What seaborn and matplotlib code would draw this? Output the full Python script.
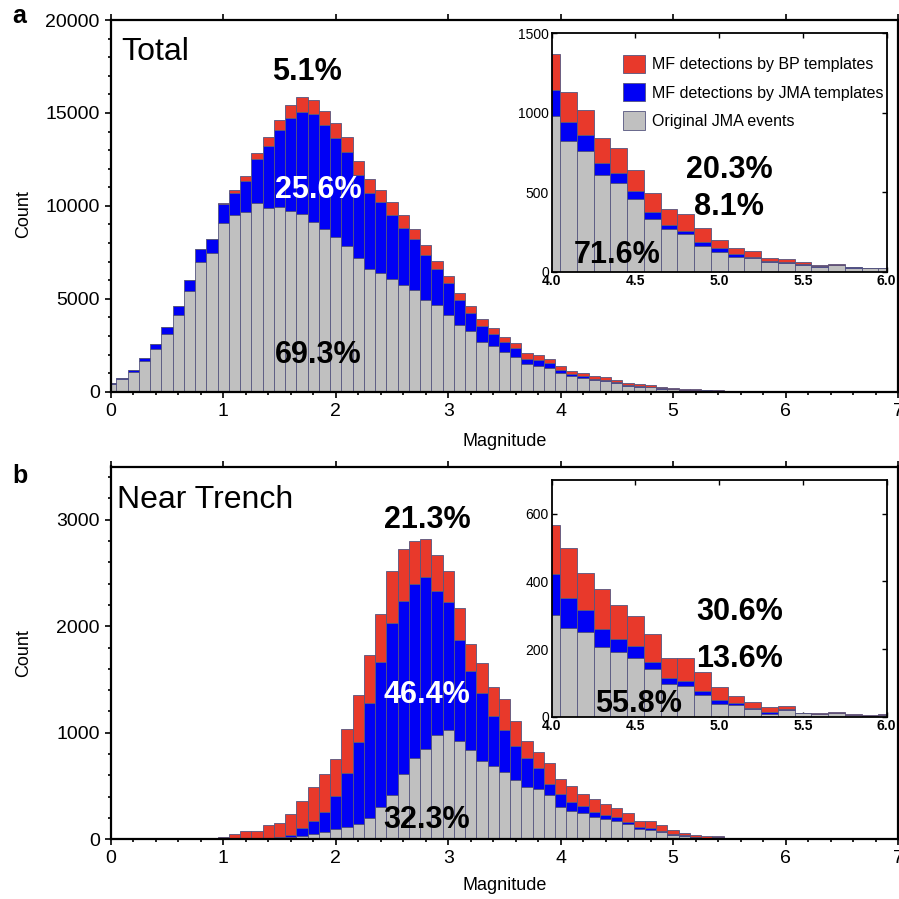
import numpy as np
import pandas as pd
import matplotlib
matplotlib.use("Agg")
import matplotlib.pyplot as plt
import seaborn as sns
from matplotlib.ticker import MultipleLocator

# ---------------- data (counts per 0.1 magnitude bin, centres 0.0 ... 7.0) ----------------
magnitudes = np.round(np.arange(0, 7.01, 0.1), 1)

total_jma = [400, 680, 1080, 1650, 2300, 3110, 4120, 5400, 6980, 7460,
             9080, 9500, 9690, 10160, 9870, 9930, 9710, 9550, 9150, 8740,
             8330, 7820, 7190, 6600, 6380, 6060, 5720, 5490, 4950, 4680,
             4140, 3600, 3240, 2700, 2480, 2160, 1890, 1470, 1380, 1290,
             981, 823, 762, 609, 561, 458, 332, 267, 237, 164,
             126, 95, 88, 59, 57, 42, 32, 40, 25, 21,
             21, 15, 12, 9, 7, 5, 4, 3, 2, 1, 1]
total_mf_jma = [50, 40, 90, 150, 250, 380, 470, 590, 700, 750,
                1010, 1170, 1660, 2340, 3350, 4150, 5000, 5520, 5780, 5590,
                5340, 5090, 4460, 4080, 3820, 3470, 3090, 2730, 2420, 1940,
                1690, 1350, 1020, 840, 610, 500, 450, 290, 330, 240,
                164, 118, 99, 74, 63, 50, 44, 29, 21, 21,
                21, 14, 7, 6, 2, 4, 4, 2, 2, 1,
                1, 1, 1, 0, 0, 0, 0, 0, 0, 0, 0]
total_mf_bp = [0, 0, 0, 0, 0, 0, 0, 0, 20, 30,
               70, 160, 270, 340, 470, 540, 700, 810, 770, 780,
               810, 800, 760, 740, 630, 670, 690, 560, 510, 430,
               370, 360, 330, 380, 330, 310, 270, 310, 270, 230,
               224, 187, 158, 161, 157, 133, 118, 97, 103, 88,
               53, 38, 35, 23, 21, 13, 6, 4, 5, 3,
               3, 2, 2, 1, 1, 1, 0, 0, 0, 0, 0]

trench_jma = [0, 0, 0, 0, 0, 0, 0, 0, 0, 0,
              0, 0, 0, 0, 3, 9, 19, 31, 47, 72,
              94, 119, 144, 197, 300, 416, 609, 766, 844, 978,
              1025, 925, 838, 734, 691, 634, 556, 494, 469, 416,
              300, 263, 251, 205, 192, 175, 140, 96, 92, 64,
              39, 34, 23, 9, 20, 10, 8, 12, 6, 3,
              6, 2, 2, 1, 1, 0, 0, 0, 0, 0, 0]
trench_mf_jma = [0, 0, 0, 0, 0, 0, 0, 0, 0, 0,
                 0, 0, 0, 0, 7, 16, 21, 78, 128, 187,
                 312, 500, 772, 1078, 1366, 1618, 1625, 1634, 1619, 1353,
                 1203, 944, 740, 635, 465, 391, 319, 272, 197, 100,
                 121, 89, 66, 54, 38, 34, 23, 19, 14, 12,
                 10, 7, 2, 6, 2, 1, 0, 0, 0, 0,
                 0, 0, 0, 0, 0, 0, 0, 0, 0, 0, 0]
trench_mf_bp = [0, 0, 0, 0, 0, 0, 0, 0, 0, 3,
                19, 47, 81, 78, 124, 131, 197, 250, 312, 350,
                344, 421, 437, 453, 453, 482, 488, 400, 353, 341,
                291, 303, 260, 290, 275, 291, 234, 156, 156, 197,
                147, 148, 109, 118, 100, 88, 81, 59, 68, 57,
                40, 21, 19, 13, 10, 1, 2, 3, 2, 2,
                2, 1, 1, 1, 0, 0, 0, 0, 0, 0, 0]

labels = ["MF detections by BP templates", "MF detections by JMA templates", "Original JMA events"]
colors = ["#E8392B", "#0000F5", "#C0C0C0"]

total_pcts = ["5.1%", "25.6%", "69.3%"]
total_inset_pcts = ["20.3%", "8.1%", "71.6%"]
trench_pcts = ["21.3%", "46.4%", "32.3%"]
trench_inset_pcts = ["30.6%", "13.6%", "55.8%"]


def long_frame(bp, jma_mf, jma):
    parts = []
    for lab, vals in zip(labels, [bp, jma_mf, jma]):
        parts.append(pd.DataFrame({"mag": magnitudes, "count": vals, "source": lab}))
    return pd.concat(parts, ignore_index=True)


df_total = long_frame(total_mf_bp, total_mf_jma, total_jma)
df_trench = long_frame(trench_mf_bp, trench_mf_jma, trench_jma)

bin_edges = [round(v, 2) for v in np.arange(-0.05, 7.1, 0.1)]

# ---------------- style ----------------
sns.set_style("ticks")
plt.rcParams["font.family"] = ["Liberation Sans", "DejaVu Sans"]
plt.rcParams.update({"text.color": "black", "axes.labelcolor": "black",
                     "xtick.color": "black", "ytick.color": "black",
                     "axes.edgecolor": "black"})

W = H = 899.0
fig = plt.figure(figsize=(8.99, 8.99), dpi=100)


def fx(x):
    return x / W


def fy(y):
    return 1 - y / H


def rect(l, t, r, b):
    return [fx(l), fy(b), (r - l) / W, (b - t) / H]


EDGE = "#55557f"


def draw_hist(ax, df, legend=False):
    sns.histplot(data=df, x="mag", weights="count", hue="source", hue_order=labels,
                 palette=colors, multiple="stack", bins=bin_edges, alpha=1,
                 edgecolor=EDGE, linewidth=0.6, ax=ax, legend=legend)


def style_main(ax, ymax, ymajor, yminor):
    ax.set_xlim(0, 7)
    ax.set_ylim(0, ymax)
    ax.xaxis.set_major_locator(MultipleLocator(1))
    ax.xaxis.set_minor_locator(MultipleLocator(0.2))
    ax.yaxis.set_major_locator(MultipleLocator(ymajor))
    ax.yaxis.set_minor_locator(MultipleLocator(yminor))
    ax.tick_params(which="both", direction="out", top=True, right=False,
                   labelsize=14, width=1.2, colors="black")
    ax.tick_params(which="major", length=4.5)
    ax.tick_params(which="minor", length=2.5, top=False)
    for sp in ax.spines.values():
        sp.set_visible(True)
        sp.set_linewidth(1.6)
        sp.set_color("black")
    ax.set_xlabel("Magnitude", fontsize=13)
    ax.set_ylabel("Count", fontsize=13)


def style_inset(ax, ymax, ymajor):
    ax.set_xlim(4, 6)
    ax.set_ylim(0, ymax)
    ax.xaxis.set_major_locator(MultipleLocator(0.5))
    ax.yaxis.set_major_locator(MultipleLocator(ymajor))
    ax.tick_params(which="both", direction="in", top=True, right=True,
                   labelsize=10, width=1.0, length=3.5, pad=2)
    ax.xaxis.set_major_formatter(matplotlib.ticker.FormatStrFormatter("%.1f"))
    for sp in ax.spines.values():
        sp.set_visible(True)
        sp.set_linewidth(1.3)
        sp.set_color("black")
    ax.set_xlabel("")
    ax.set_ylabel("")
    ax.set_facecolor("white")


# ---------------- panel a ----------------
ax_a = fig.add_axes(rect(110.8, 20, 898, 391.7))
draw_hist(ax_a, df_total)
style_main(ax_a, 20000, 5000, 1000)
ax_a.xaxis.set_label_coords(0.5, -0.11)
ax_a.yaxis.set_label_coords(-0.1, 0.478)

ax_ai = fig.add_axes(rect(551.7, 33.3, 886.7, 271.7))
draw_hist(ax_ai, df_total, legend=True)
style_inset(ax_ai, 1500, 500)
sns.move_legend(ax_ai, loc="upper left", bbox_to_anchor=(0.213, 0.909),
                title=None, frameon=False, fontsize=11.5, handlelength=1.38,
                handleheight=1.38, labelspacing=0.62, handletextpad=0.42,
                borderpad=0, borderaxespad=0)

# ---------------- panel b ----------------
ax_b = fig.add_axes(rect(110.8, 466.5, 898, 839.3))
draw_hist(ax_b, df_trench)
style_main(ax_b, 3500, 1000, 200)
ax_b.xaxis.set_label_coords(0.5, -0.1)
ax_b.yaxis.set_label_coords(-0.1, 0.5)

ax_bi = fig.add_axes(rect(551.7, 480, 886.7, 716.7))
draw_hist(ax_bi, df_trench)
style_inset(ax_bi, 700, 200)

for axi in (ax_ai, ax_bi):
    for t in axi.get_xticklabels():
        t.set_fontweight("bold")

# ---------------- texts ----------------
fig.text(fx(12), fy(23), "a", fontsize=18, fontweight="bold", ha="left", va="baseline")
fig.text(fx(12), fy(483), "b", fontsize=18, fontweight="bold", ha="left", va="baseline")
fig.text(fx(121), fy(60), "Total", fontsize=23, ha="left", va="baseline")
fig.text(fx(117), fy(508), "Near Trench", fontsize=23, ha="left", va="baseline")


def pct(x, y, s, color="black"):
    fig.text(fx(x), fy(y), s, fontsize=22, fontweight="bold", color=color,
             ha="center", va="baseline", zorder=10)


pct(307, 80, total_pcts[0])
pct(318, 198, total_pcts[1], "white")
pct(318, 363, total_pcts[2])
pct(729, 178, total_inset_pcts[0])
pct(729, 215, total_inset_pcts[1])
pct(617, 263, total_inset_pcts[2])

pct(427, 528, trench_pcts[0])
pct(427, 703, trench_pcts[1], "white")
pct(427, 828, trench_pcts[2])
pct(740, 620, trench_inset_pcts[0])
pct(740, 667, trench_inset_pcts[1])
pct(639, 712, trench_inset_pcts[2])

fig.savefig("out.png", dpi=100)
